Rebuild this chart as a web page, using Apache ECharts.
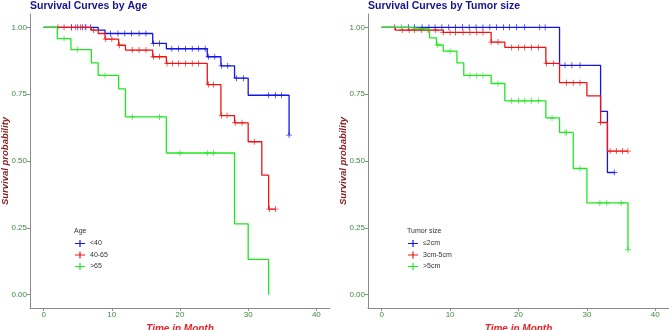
<!DOCTYPE html>
<html>
<head>
<meta charset="utf-8">
<script src="https://cdn.jsdelivr.net/npm/echarts@6/dist/echarts.min.js"></script>
<style>
  html, body { margin: 0; padding: 0; background: #fff; }
  #chart { width: 669px; height: 330px; }
</style>
</head>
<body>
<div id="chart"></div>
<script>
// ---- Age panel ----
const ageNames = ['<40', '40-65', '>65'];
const ageTimes_lt40 = [0, 8, 9, 16, 18, 24, 26, 28, 30, 36];
const ageSurv_lt40 = [1, 0.99, 0.977, 0.94, 0.92, 0.89, 0.856, 0.81, 0.746, 0.597];
const ageCens_lt40 = [4.1, 5, 5.7, 6.2, 6.9, 9.8, 10.9, 11.9, 12.9, 14, 15, 16.1, 17, 18.8, 19.8, 20.8, 21.8, 22.7, 23.7,
  24.2, 25.1, 26.1, 27, 28.3, 29.3, 33, 34, 34.9, 36];

const ageTimes_40_65 = [0, 7, 8, 9, 11, 12, 16, 18, 24, 26, 28, 30, 32, 33, 34];
const ageSurv_40_65 = [1, 0.99, 0.977, 0.956, 0.933, 0.915, 0.89, 0.865, 0.786, 0.67, 0.643, 0.572, 0.447, 0.32, 0.32];
const ageCens_40_65 = [2.1, 3, 4.1, 4.7, 5.4, 6.1, 7.3, 9.1, 10, 11.1, 13, 14, 15, 16.1, 17, 18.1, 18.9, 19.8, 20.8, 21.8, 22.7,
  24.2, 24.9, 26.1, 26.9, 28.1, 29.1, 30.9, 33.1, 34];

const ageTimes_gt65 = [0, 2, 4, 7, 8, 11, 12, 18, 28, 30, 33];
const ageSurv_gt65 = [1, 0.958, 0.917, 0.867, 0.82, 0.77, 0.665, 0.53, 0.265, 0.132, 0];
const ageCens_gt65 = [3, 5, 9, 13, 17, 20, 24, 24.9];

// ---- Tumor size panel ----
const tumorNames = ['\u22642cm', '3cm-5cm', '>5cm'];
const tumTimes_small = [0, 26, 32, 33, 34];
const tumSurv_small = [1, 0.858, 0.686, 0.457, 0.457];
const tumCens_small = [3.9, 4.8, 5.9, 6.9, 7.8, 8.8, 9.8, 10.8, 11.8, 12.8, 13.8, 14.8, 15.8, 16.8, 17.8, 18.7, 19.7, 20.9,
  23.1, 23.9, 26.8, 27.8, 29, 34];

const tumTimes_mid = [0, 2, 9, 16, 18, 24, 26, 30, 32, 33, 36];
const tumSurv_mid = [1, 0.99, 0.981, 0.945, 0.925, 0.865, 0.793, 0.744, 0.644, 0.537, 0.537];
const tumCens_mid = [1.9, 3, 4, 4.8, 5.8, 6.8, 7.9, 9, 10, 10.8, 11.9, 12.9, 13.9, 14.8, 16, 17, 19, 20, 20.9, 21.9, 22.9,
  24.1, 25.1, 27, 28, 29, 32, 33.4, 34.3, 35.2, 36];

const tumTimes_big = [0, 4, 7, 8, 9, 11, 12, 16, 18, 24, 26, 28, 30, 36];
const tumSurv_big = [1, 0.993, 0.961, 0.934, 0.911, 0.867, 0.82, 0.79, 0.725, 0.661, 0.607, 0.472, 0.343, 0.168];
const tumCens_big = [2.9, 4.8, 5.8, 8.2, 10, 12.9, 13.9, 14.8, 17, 19, 20, 20.9, 21.9, 22.9, 24.9, 26.8, 27, 29, 31.9,
  32.9, 35, 36];

const xTicks = [0, 10, 20, 30, 40];
const yTicks = [0, 0.25, 0.5, 0.75, 1];

const colors = ['#1414e6', '#ee1414', '#22e622'];
const plusPath = 'path://M0,4.3 H10 V5.7 H0 Z M4.3,0 H5.7 V10 H4.3 Z';
const legendIcon = 'path://M0,3.4 H10 V4.6 H0 Z M4.4,0.5 H5.6 V7.5 H4.4 Z';

function survAt(times, surv, t) {
  let v = surv[0];
  for (let i = 0; i < times.length; i++) {
    if (times[i] <= t + 1e-9) v = surv[i];
  }
  return v;
}

function makeSeries(names, groups, idx) {
  const out = [];
  groups.forEach((g, i) => {
    out.push({
      type: 'line',
      name: names[i],
      xAxisIndex: idx, yAxisIndex: idx,
      step: 'end',
      showSymbol: false,
      symbol: 'none',
      silent: true,
      color: colors[i],
      lineStyle: { width: 1.3, color: colors[i] },
      data: g.t.map((t, k) => [t, g.s[k]])
    });
    out.push({
      type: 'scatter',
      name: names[i],
      xAxisIndex: idx, yAxisIndex: idx,
      symbol: plusPath,
      symbolSize: 6,
      silent: true,
      color: colors[i],
      itemStyle: { color: colors[i] },
      data: g.c.map(t => [t, survAt(g.t, g.s, t)])
    });
  });
  return out;
}

const ageGroups = [
  { t: ageTimes_lt40, s: ageSurv_lt40, c: ageCens_lt40 },
  { t: ageTimes_40_65, s: ageSurv_40_65, c: ageCens_40_65 },
  { t: ageTimes_gt65, s: ageSurv_gt65, c: ageCens_gt65 }
];
const tumorGroups = [
  { t: tumTimes_small, s: tumSurv_small, c: tumCens_small },
  { t: tumTimes_mid, s: tumSurv_mid, c: tumCens_mid },
  { t: tumTimes_big, s: tumSurv_big, c: tumCens_big }
];

const tickColor = '#3a8a3a';
const axisGrey = '#8a8a8a';
const fontFam = '"Liberation Sans", Arial, sans-serif';

function xAxisCfg(gridIndex) {
  return {
    type: 'value', gridIndex, min: -2, max: 42,
    name: 'Time in Month', nameLocation: 'middle', nameGap: 15,
    nameTextStyle: { color: '#e8232a', fontStyle: 'italic', fontWeight: 'bold', fontSize: 10, fontFamily: fontFam },
    axisLine: { show: true, onZero: false, lineStyle: { color: axisGrey, width: 1 } },
    axisTick: { show: true, length: 3, customValues: xTicks, lineStyle: { color: axisGrey } },
    axisLabel: { customValues: xTicks, color: tickColor, fontSize: 8, margin: 3, fontFamily: fontFam },
    splitLine: { show: false }
  };
}
function yAxisCfg(gridIndex) {
  return {
    type: 'value', gridIndex, min: -0.05, max: 1.05,
    name: 'Survival probability', nameLocation: 'middle', nameGap: 20, nameRotate: 90,
    nameMoveOverlap: false,
    nameTextStyle: { color: '#8b1a1a', fontStyle: 'italic', fontWeight: 'bold', fontSize: 9.5, fontFamily: fontFam },
    axisLine: { show: true, onZero: false, lineStyle: { color: axisGrey, width: 1 } },
    axisTick: { show: true, length: 3, customValues: yTicks, lineStyle: { color: axisGrey } },
    axisLabel: { customValues: yTicks, color: tickColor, fontSize: 8, margin: 3, fontFamily: fontFam,
      formatter: v => v.toFixed(2) },
    splitLine: { show: false }
  };
}

function legendCfg(names, left, top) {
  return {
    orient: 'vertical', left, top, padding: 0,
    itemWidth: 10, itemHeight: 7, itemGap: 4.5,
    selectedMode: false,
    data: names.map(n => ({ name: n, icon: legendIcon })),
    textStyle: { fontSize: 7, color: '#333', fontFamily: fontFam }
  };
}

const chart = echarts.init(document.getElementById('chart'), null, { renderer: 'canvas' });
chart.setOption({
  animation: false,
  backgroundColor: '#ffffff',
  title: [
    { text: 'Survival Curves by Age', left: 30, top: 0.5, padding: 0,
      textStyle: { color: '#14148c', fontWeight: 'bold', fontSize: 10.5, fontFamily: fontFam } },
    { text: 'Survival Curves by Tumor size', left: 368, top: 0.5, padding: 0,
      textStyle: { color: '#14148c', fontWeight: 'bold', fontSize: 10.5, fontFamily: fontFam } },
    { text: 'Age', left: 74, top: 228, padding: 0,
      textStyle: { color: '#333', fontWeight: 'normal', fontSize: 7, fontFamily: fontFam } },
    { text: 'Tumor size', left: 407, top: 228, padding: 0,
      textStyle: { color: '#333', fontWeight: 'normal', fontSize: 7, fontFamily: fontFam } }
  ],
  legend: [
    legendCfg(ageNames, 75, 240),
    legendCfg(tumorNames, 408, 240)
  ],
  grid: [
    { left: 30, top: 14, width: 300, height: 294, outerBoundsMode: 'none', containLabel: false },
    { left: 368, top: 14, width: 301, height: 294, outerBoundsMode: 'none', containLabel: false }
  ],
  xAxis: [xAxisCfg(0), xAxisCfg(1)],
  yAxis: [yAxisCfg(0), yAxisCfg(1)],
  series: makeSeries(ageNames, ageGroups, 0).concat(makeSeries(tumorNames, tumorGroups, 1))
});
</script>
</body>
</html>
